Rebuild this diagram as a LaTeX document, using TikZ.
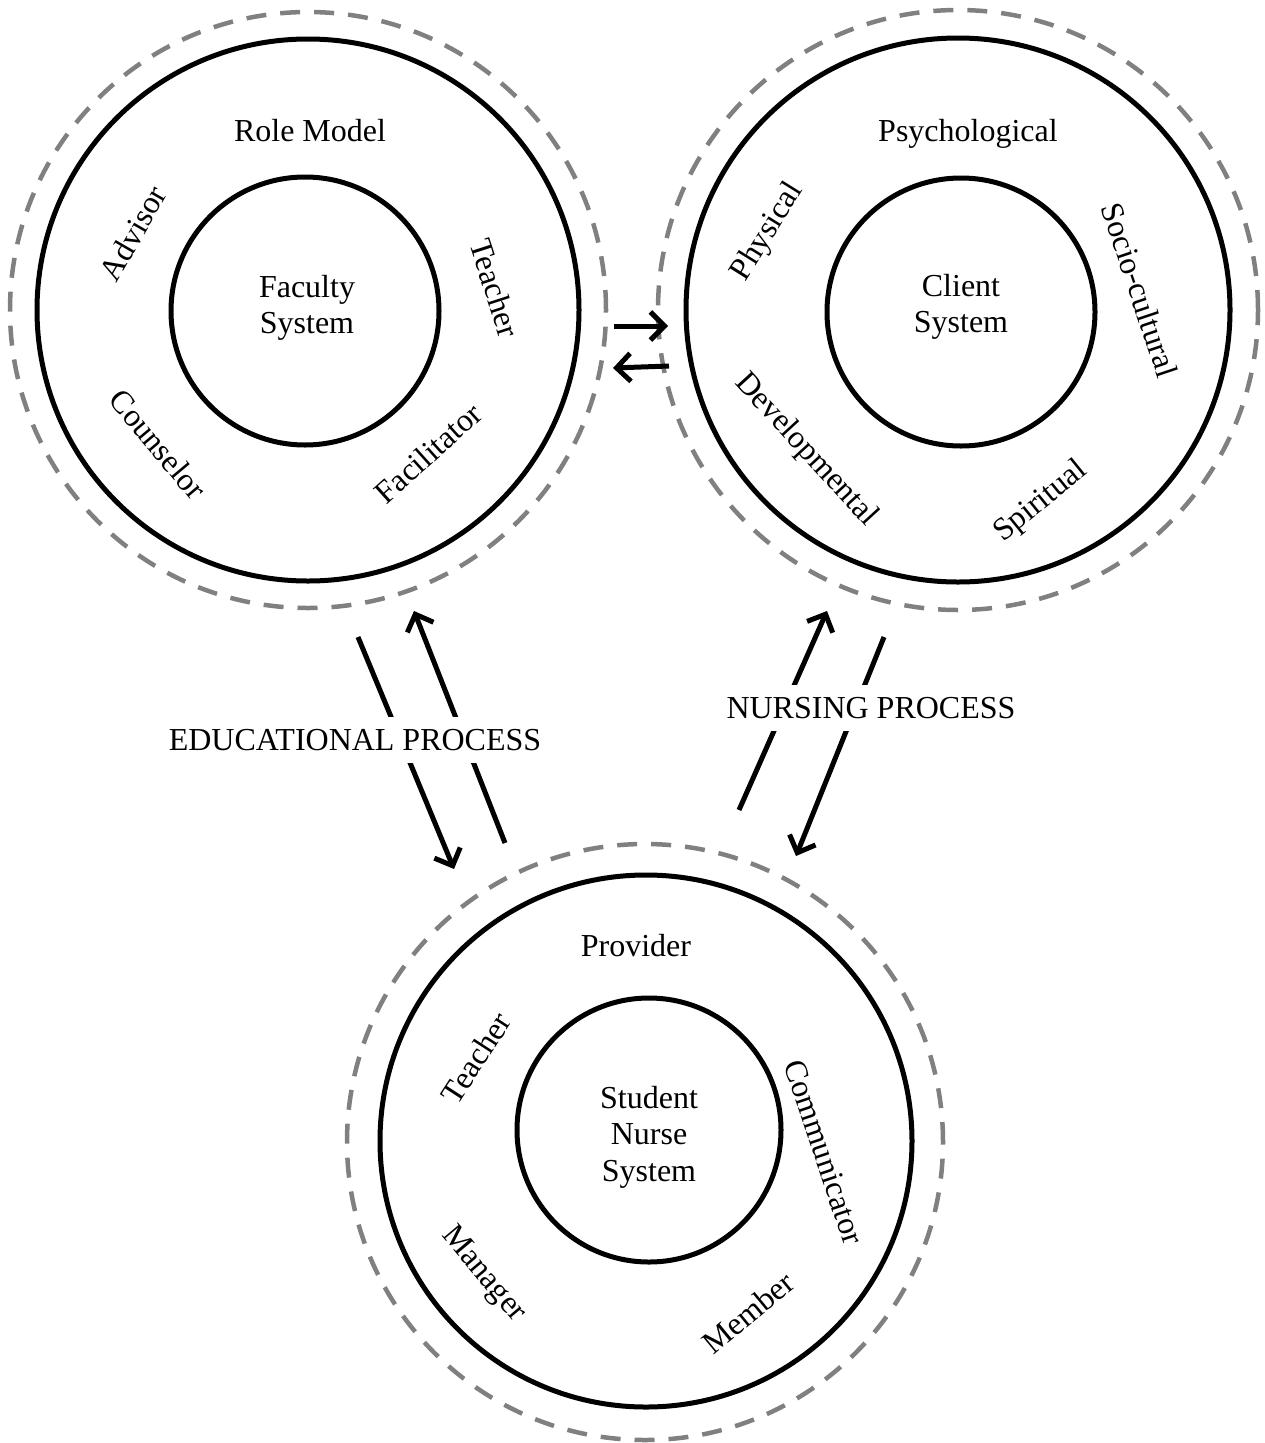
\documentclass[tikz,border=0pt]{standalone}
\usepackage{fontspec}
\setmainfont{Liberation Serif}
\usetikzlibrary{arrows.meta}

\begin{document}
\begin{tikzpicture}[x=1pt, y=-1pt, >={Straight Barb[length=14pt,width=28pt]},
    every node/.style={font=\fontsize{32}{36.5}\selectfont, align=center},
    ring/.style={circle, draw, line width=5pt, inner sep=0pt},
    dashring/.style={circle, draw=gray, line width=4.5pt, dash pattern=on 20pt off 14pt, inner sep=0pt},
    flow/.style={->, line width=5pt},
    process/.style={fill=white, inner xsep=4pt, inner ysep=12pt}]
    \useasboundingbox (0,0) rectangle (1265,1443);

    % Faculty system
    \node[dashring, minimum size=596pt] (facout) at (308,310) {};
    \node[ring, minimum size=542pt] (facmid) at (308,310) {};
    \node[ring, minimum size=268pt] (facin) at (305,311) {};
    \node (facname) at (307,308) {Faculty\\System};
    \node (frole) at (310,131) {Role Model};
    \node[rotate=60] (fadvisor) at (133,233) {Advisor};
    \node[rotate=-72] (fteacher) at (495,288) {Teacher};
    \node[rotate=-50] (fcounsel) at (158,444) {Counselor};
    \node[rotate=42] (ffacil) at (428,453) {Facilitator};

    % Client system
    \node[dashring, minimum size=600pt] (cliout) at (958,310) {};
    \node[ring, minimum size=544pt] (climid) at (958,310) {};
    \node[ring, minimum size=268pt] (cliin) at (961,312) {};
    \node (cliname) at (961,307) {Client\\System};
    \node (cpsych) at (968,134) {Psychological};
    \node[rotate=58] (cphys) at (768,232) {Physical};
    \node[rotate=-71.5] (csocio) at (1140,290) {Socio-cultural};
    \node[rotate=-47.5] (cdevel) at (806,450) {Developmental};
    \node[rotate=39] (cspirit) at (1041,502) {Spiritual};

    % Student nurse system
    \node[dashring, minimum size=596pt] (stuout) at (645,1142) {};
    \node[ring, minimum size=532pt] (stumid) at (646,1141) {};
    \node[ring, minimum size=264pt] (stuin) at (649,1130) {};
    \node (stuname) at (649,1137) {Student\\Nurse\\System};
    \node (sprov) at (636,946) {Provider};
    \node[rotate=57] (steach) at (476,1058) {Teacher};
    \node[rotate=-71.5] (scomm) at (824,1152) {Communicator};
    \node[rotate=-50] (smanag) at (483,1275) {Manager};
    \node[rotate=39.5] (smember) at (748,1313) {Member};

    % Arrows between the systems
    \coordinate (fc1) at (614,326);
    \coordinate (fc2) at (668,326);
    \coordinate (cf1) at (669,366);
    \coordinate (cf2) at (613,368);
    \coordinate (ed1) at (358,637);
    \coordinate (ed2) at (454,869);
    \coordinate (ed3) at (505,843);
    \coordinate (ed4) at (414,611);
    \coordinate (nu1) at (739,810);
    \coordinate (nu2) at (827,611);
    \coordinate (nu3) at (884,637);
    \coordinate (nu4) at (796,856);
    \draw[flow] (fc1) -- (fc2);
    \draw[flow] (cf1) -- (cf2);
    \draw[flow] (ed1) -- (ed2);
    \draw[flow] (ed3) -- (ed4);
    \draw[flow] (nu1) -- (nu2);
    \draw[flow] (nu3) -- (nu4);

    \node[process] (educ) at (355,740) {EDUCATIONAL PROCESS};
    \node[process] (nurs) at (871,708) {NURSING PROCESS};
\end{tikzpicture}
\end{document}
